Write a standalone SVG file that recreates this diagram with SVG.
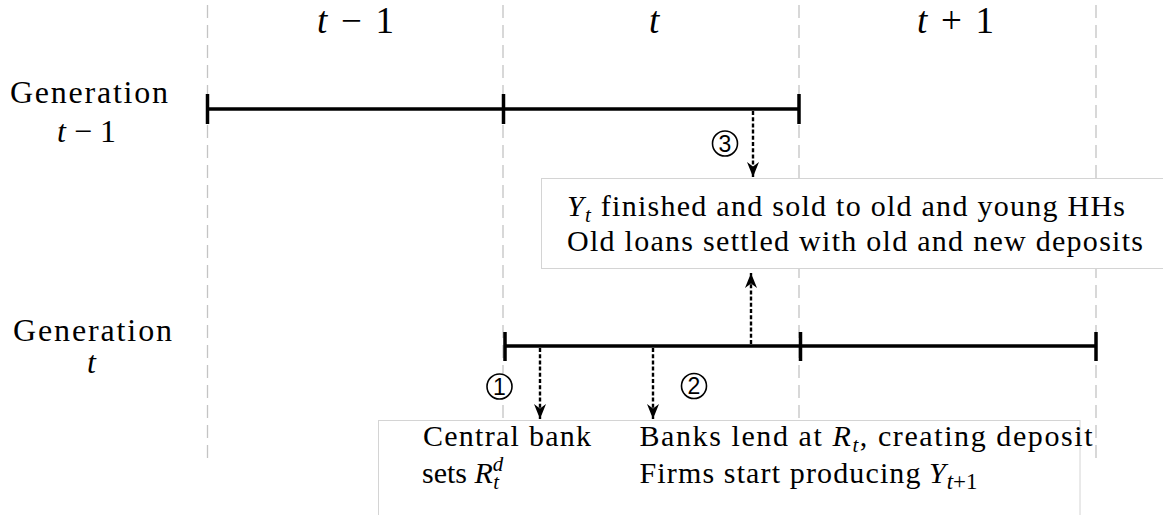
<svg xmlns="http://www.w3.org/2000/svg" width="1163" height="515" viewBox="0 0 1163 515">
<style>
.grid{stroke:#c4c4c4;stroke-width:1.3;stroke-dasharray:13 7;fill:none}
.box{fill:#fff;stroke:#d4d4d4;stroke-width:1}
.tl{stroke:#000;stroke-width:3.5;fill:none}
.arr{stroke:#000;stroke-width:2.4;stroke-dasharray:4 2.2;fill:none}
.circ{fill:#fff;stroke:#000;stroke-width:1.6}
.num{font-family:'Liberation Sans',Arial,sans-serif;font-size:23px;text-anchor:middle;fill:#000}
.rm{font-family:'Liberation Serif','Times New Roman',serif;font-size:30px;fill:#000}
.lbl{font-family:'Liberation Serif','Times New Roman',serif;font-size:32px;fill:#000}
.ttl{font-family:'Liberation Serif','Times New Roman',serif;font-size:37px;fill:#000}
.it{font-style:italic}
.s{font-size:21px}
.s2{font-size:23px}
</style>
<defs>
<marker id="ah" markerUnits="userSpaceOnUse" viewBox="0 0 15 12" refX="15" refY="6" markerWidth="15" markerHeight="12" orient="auto">
<path d="M0,0 L15,6 L0,12 L4.5,6 Z" fill="#000"/>
</marker>
</defs>

<g id="gridlines">
<line class="grid" x1="207.5" y1="5" x2="207.5" y2="465"/>
<line class="grid" x1="503" y1="5" x2="503" y2="465"/>
<line class="grid" x1="799" y1="5" x2="799" y2="465"/>
<line class="grid" x1="1096" y1="5" x2="1096" y2="465"/>
</g>

<g id="period-labels">
<text class="ttl" x="317" y="33" textLength="77"><tspan class="it">t</tspan> − 1</text>
<text class="ttl it" x="649" y="33">t</text>
<text class="ttl" x="917" y="33" textLength="77"><tspan class="it">t</tspan> + 1</text>
</g>

<g id="box-top">
<rect class="box" x="541.5" y="178.5" width="640" height="90"/>
<text class="rm" x="567" y="216" textLength="558"><tspan class="it">Y</tspan><tspan class="it s" dy="6">t</tspan><tspan dy="-6"> finished and sold to old and young HHs</tspan></text>
<text class="rm" x="567" y="251" textLength="576">Old loans settled with old and new deposits</text>
</g>

<g id="box-bottom">
<rect class="box" x="378.5" y="420.5" width="701.5" height="110"/>
<text class="rm" x="423" y="446" textLength="168">Central bank</text>
<text class="rm" x="422" y="483">sets <tspan class="it">R</tspan><tspan class="it s" dy="-12">d</tspan><tspan class="it s" dx="-10" dy="18">t</tspan></text>
<text class="rm" x="639.5" y="446" textLength="453">Banks lend at <tspan class="it">R</tspan><tspan class="it s" dy="6">t</tspan><tspan dy="-6">, creating deposit</tspan></text>
<text class="rm" x="639.5" y="483" textLength="281">Firms start producing</text>
<text class="rm" x="929" y="483"><tspan class="it">Y</tspan><tspan class="s2" dx="1" dy="6"><tspan class="it">t</tspan>+1</tspan></text>
</g>

<g id="generation-t-minus-1">
<text class="lbl"><tspan x="10" y="103" textLength="158">Generation</tspan><tspan x="57" y="142"><tspan class="it">t</tspan> − 1</tspan></text>
<line class="tl" x1="207.5" y1="109" x2="799" y2="109"/>
<line class="tl" x1="207.5" y1="94" x2="207.5" y2="124"/>
<line class="tl" x1="503.5" y1="94" x2="503.5" y2="124"/>
<line class="tl" x1="799" y1="94" x2="799" y2="124"/>
</g>

<g id="generation-t">
<text class="lbl"><tspan x="13" y="341" textLength="159">Generation</tspan><tspan class="it" x="87" y="373">t</tspan></text>
<line class="tl" x1="505" y1="346" x2="1096" y2="346"/>
<line class="tl" x1="505" y1="332" x2="505" y2="361"/>
<line class="tl" x1="800.5" y1="332" x2="800.5" y2="361"/>
<line class="tl" x1="1096" y1="332" x2="1096" y2="361"/>
</g>

<g id="connectors">
<line class="arr" x1="753" y1="111" x2="753" y2="177" marker-end="url(#ah)"/>
<line class="arr" x1="540" y1="348" x2="540" y2="419" marker-end="url(#ah)"/>
<line class="arr" x1="653" y1="348" x2="653" y2="419" marker-end="url(#ah)"/>
<line class="arr" x1="751" y1="344" x2="751" y2="273" marker-end="url(#ah)"/>
</g>

<g id="step-3">
<circle class="circ" cx="725" cy="143.5" r="12.5"/>
<text class="num" x="725" y="151.5">3</text>
</g>
<g id="step-1">
<circle class="circ" cx="499.5" cy="386.5" r="12.5"/>
<text class="num" x="499.5" y="394.5">1</text>
</g>
<g id="step-2">
<circle class="circ" cx="694" cy="386" r="12.5"/>
<text class="num" x="694" y="394">2</text>
</g>
</svg>
